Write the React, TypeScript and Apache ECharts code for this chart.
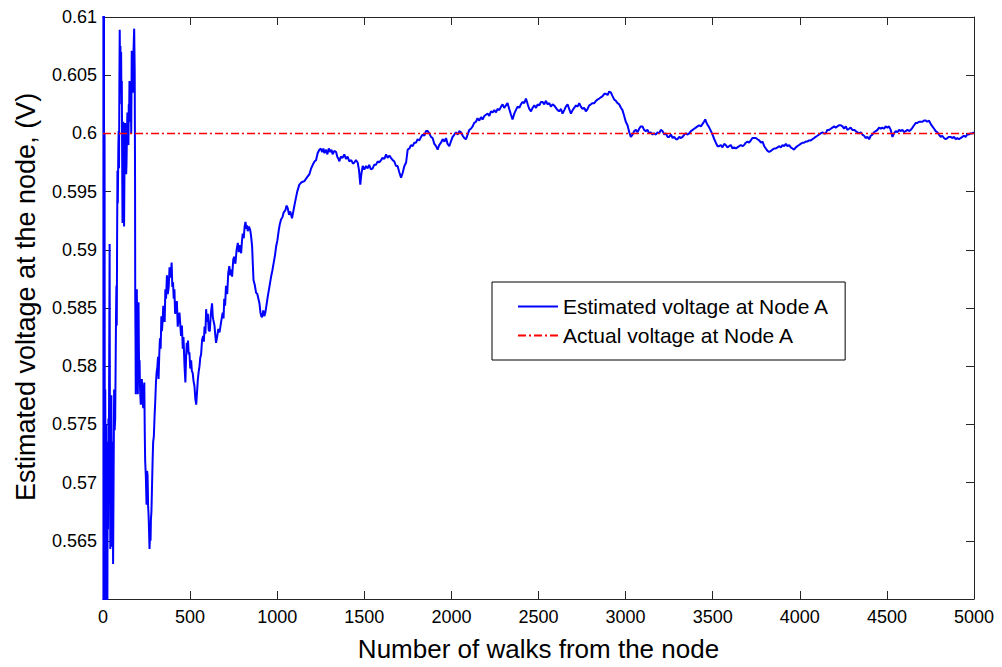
import React, { useEffect, useRef } from "react";
import * as echarts from "echarts";

const seriesNames = ["Estimated voltage at Node A", "Actual voltage at Node A"];
const xTitle = "Number of walks from the node";
const yTitle = "Estimated voltage at the node, (V)";
const walkRange = [0, 5000];
const walkStep = 500;
const voltRange = [0.56, 0.61];
const voltStep = 0.005;
const actualVoltage = 0.6;

// [walk count, estimated voltage]
const earlyPhase: [number, number][] = [
  [1, 0.9], [3, 0.45], [5, 0.66], [7, 0.53], [9, 0.6], [11, 0.55], [13, 0.578], [15, 0.5585], [17, 0.575], [19, 0.564],
  [21, 0.572], [23, 0.5635], [25, 0.558], [27, 0.5735], [29, 0.566], [31, 0.5755], [33, 0.569], [35, 0.578], [38, 0.5905],
  [40, 0.5725], [42, 0.5643], [44, 0.575], [46, 0.5675], [48, 0.5775], [50, 0.57], [52, 0.5645], [55, 0.5735], [58, 0.563],
  [61, 0.571], [64, 0.578], [67, 0.5745], [70, 0.5755], [73, 0.581], [75, 0.5845], [77, 0.5869], [79, 0.5835], [81, 0.591],
  [83, 0.5968], [85, 0.594], [88, 0.5987], [90, 0.6002], [92, 0.597], [94, 0.604], [96, 0.6089], [98, 0.6055], [100, 0.6075],
  [102, 0.6035], [104, 0.607], [106, 0.6025], [108, 0.6045], [110, 0.598], [112, 0.5923], [114, 0.5975], [116, 0.601],
  [118, 0.597], [121, 0.592], [124, 0.5985], [127, 0.6009], [129, 0.598], [131, 0.5995], [133, 0.5965], [135, 0.5974],
  [137, 0.5995], [140, 0.6018], [143, 0.5995], [146, 0.599], [148, 0.6025], [150, 0.6015], [152, 0.6045], [154, 0.6041],
  [156, 0.6025], [158, 0.601], [160, 0.6035], [162, 0.6], [165, 0.6071], [167, 0.6045], [169, 0.6055], [171, 0.6035],
  [173, 0.606], [176, 0.6075], [179, 0.609], [181, 0.6065], [182, 0.6054], [184, 0.596], [185, 0.5859], [187, 0.5815],
  [188, 0.5776], [190, 0.5845], [192, 0.5825], [194, 0.5866], [196, 0.5835], [198, 0.5805], [200, 0.5776], [202, 0.5825],
  [204, 0.5855], [206, 0.5815], [208, 0.579], [210, 0.5805], [212, 0.5785], [214, 0.5775], [217, 0.5767], [220, 0.5785],
  [223, 0.5789], [227, 0.577], [231, 0.5764], [234, 0.578], [237, 0.5786], [240, 0.574], [242, 0.5719], [246, 0.5705],
  [250, 0.5681], [253, 0.571], [256, 0.5706], [259, 0.568], [262, 0.5671], [265, 0.5655], [267, 0.5643], [270, 0.5655],
  [273, 0.565], [275, 0.5668], [278, 0.5675], [281, 0.5694], [285, 0.572], [288, 0.5735], [292, 0.574], [296, 0.5757],
  [300, 0.577], [304, 0.5786], [308, 0.5795], [312, 0.5799], [316, 0.5808], [319, 0.5789], [323, 0.581], [327, 0.5824],
  [331, 0.5815], [335, 0.5843], [338, 0.583], [342, 0.5838], [346, 0.5852], [350, 0.585], [354, 0.5838], [358, 0.5866],
  [362, 0.5858], [367, 0.5878], [372, 0.5862], [377, 0.5868], [382, 0.5885], [387, 0.5876], [391, 0.5882], [394, 0.5889],
  [398, 0.5868], [402, 0.5872], [406, 0.5858], [410, 0.5866], [414, 0.5845], [419, 0.585], [424, 0.5856], [429, 0.5834],
  [434, 0.5842], [439, 0.5846],
];

const middlePhase: [number, number][] = [
  [448, 0.5826], [453, 0.5835], [458, 0.5815], [462, 0.5825], [468, 0.58], [473, 0.5786], [477, 0.5808], [481, 0.582],
  [485, 0.5812], [488, 0.5822], [492, 0.581], [496, 0.5812], [501, 0.5798], [506, 0.5805], [510, 0.5796], [515, 0.5794],
  [520, 0.5787], [525, 0.5783], [530, 0.5772], [535, 0.5767], [540, 0.5778], [544, 0.5788], [549, 0.5795], [554, 0.58],
  [558, 0.5807], [563, 0.581], [569, 0.5823], [575, 0.5826], [579, 0.5821], [583, 0.5834], [588, 0.5828], [592, 0.5849],
  [597, 0.5838], [602, 0.5845], [607, 0.5831], [613, 0.583], [619, 0.5845], [626, 0.5854], [630, 0.5843], [633, 0.584],
  [640, 0.5835], [645, 0.5826], [649, 0.582], [655, 0.5825], [662, 0.5832], [669, 0.5829], [678, 0.5838], [687, 0.5846],
  [692, 0.5841], [696, 0.5858], [701, 0.5852], [706, 0.5869], [713, 0.5862], [719, 0.588], [725, 0.5886], [731, 0.5878],
  [736, 0.5883], [741, 0.5877], [748, 0.5892], [754, 0.5894], [760, 0.5888], [767, 0.59], [774, 0.5906], [780, 0.5898],
  [787, 0.5904], [793, 0.5897], [798, 0.5908], [802, 0.5914], [808, 0.591], [813, 0.592], [818, 0.5924], [823, 0.5918],
  [827, 0.5921], [831, 0.5916], [838, 0.592], [845, 0.5917], [850, 0.5912], [856, 0.5903], [860, 0.5888], [864, 0.5874],
  [871, 0.587], [879, 0.5863], [886, 0.5862], [892, 0.5858], [898, 0.5854], [904, 0.5846], [909, 0.5843], [913, 0.5842],
  [920, 0.5848], [926, 0.5843], [932, 0.5846], [939, 0.5853], [946, 0.586], [955, 0.5868], [965, 0.5877], [972, 0.5882],
  [980, 0.5889], [987, 0.5895], [994, 0.5903], [1001, 0.5908], [1009, 0.5917], [1015, 0.5922], [1022, 0.5926],
  [1030, 0.5928], [1037, 0.5932], [1047, 0.5934], [1054, 0.5938], [1060, 0.5936], [1068, 0.593], [1075, 0.5933],
  [1085, 0.5927], [1095, 0.5935], [1104, 0.5942], [1115, 0.595], [1127, 0.5956], [1140, 0.5958], [1156, 0.5959],
  [1170, 0.5962], [1185, 0.5965], [1195, 0.597], [1204, 0.5973], [1215, 0.5976], [1223, 0.5977], [1232, 0.5983],
  [1242, 0.5986], [1250, 0.5987], [1258, 0.5984], [1265, 0.5987], [1271, 0.5983], [1280, 0.5986], [1288, 0.5982],
  [1296, 0.5987], [1305, 0.5984], [1312, 0.5986], [1318, 0.5982], [1328, 0.5985], [1338, 0.5984], [1345, 0.598],
  [1352, 0.5978], [1357, 0.5976], [1365, 0.598], [1375, 0.5979], [1385, 0.5982], [1395, 0.5978], [1404, 0.598],
  [1414, 0.5976], [1425, 0.5977], [1435, 0.5974], [1443, 0.5975], [1452, 0.5977], [1462, 0.5975], [1470, 0.5968],
  [1477, 0.5956], [1483, 0.5965], [1491, 0.5972], [1500, 0.5969], [1510, 0.5972], [1519, 0.597], [1528, 0.5973],
  [1538, 0.5969], [1548, 0.597], [1557, 0.5973], [1567, 0.5973], [1577, 0.5976], [1586, 0.5975], [1596, 0.5977],
  [1605, 0.5979], [1615, 0.5978], [1625, 0.5982], [1634, 0.5979], [1644, 0.5981], [1653, 0.5979], [1663, 0.5977],
  [1672, 0.5976], [1682, 0.5972], [1691, 0.5972], [1700, 0.5967], [1711, 0.5962], [1720, 0.5966], [1730, 0.5972],
  [1740, 0.5975], [1749, 0.5986], [1759, 0.5987], [1768, 0.599], [1778, 0.5989], [1787, 0.5992], [1797, 0.5992],
  [1806, 0.5995], [1816, 0.5994], [1826, 0.5997], [1835, 0.5999], [1845, 0.5998], [1854, 0.6002], [1864, 0.6002],
  [1873, 0.6], [1883, 0.5997], [1892, 0.5996], [1902, 0.5991], [1912, 0.5989], [1921, 0.5986], [1930, 0.599],
  [1940, 0.5992], [1950, 0.5995], [1960, 0.5993], [1969, 0.5996], [1978, 0.5991], [1988, 0.5989], [1997, 0.5993],
];

const latePhase: [number, number][] = [
  [2007, 0.5997], [2017, 0.5999], [2026, 0.6001], [2036, 0.5999], [2045, 0.6002], [2055, 0.6001], [2065, 0.5998],
  [2074, 0.5996], [2084, 0.5995], [2093, 0.5999], [2103, 0.6003], [2112, 0.6004], [2122, 0.6006], [2131, 0.6009],
  [2141, 0.601], [2150, 0.6013], [2160, 0.6011], [2170, 0.6014], [2179, 0.6012], [2189, 0.6015], [2198, 0.6016],
  [2208, 0.6017], [2218, 0.6015], [2227, 0.6019], [2237, 0.6018], [2246, 0.602], [2256, 0.6018], [2265, 0.6021],
  [2275, 0.602], [2285, 0.6023], [2294, 0.6025], [2303, 0.6022], [2313, 0.6024], [2322, 0.6026], [2332, 0.6021],
  [2342, 0.6016], [2351, 0.6012], [2361, 0.6017], [2370, 0.602], [2380, 0.6023], [2390, 0.6022], [2399, 0.6025],
  [2409, 0.6027], [2418, 0.6026], [2428, 0.603], [2438, 0.6025], [2447, 0.6021], [2457, 0.6019], [2466, 0.6022],
  [2476, 0.6024], [2486, 0.6022], [2495, 0.6025], [2505, 0.6024], [2514, 0.6027], [2523, 0.6027], [2533, 0.6025],
  [2543, 0.6028], [2552, 0.6025], [2562, 0.6026], [2571, 0.6023], [2581, 0.6025], [2590, 0.6024], [2600, 0.6022],
  [2610, 0.602], [2619, 0.6019], [2629, 0.6021], [2638, 0.6017], [2648, 0.602], [2657, 0.6023], [2667, 0.6025],
  [2676, 0.6021], [2686, 0.6017], [2696, 0.602], [2705, 0.6022], [2715, 0.6024], [2724, 0.6023], [2734, 0.6026],
  [2743, 0.6023], [2753, 0.6021], [2762, 0.6022], [2772, 0.6019], [2782, 0.6021], [2791, 0.6024], [2801, 0.6025],
  [2810, 0.6026], [2820, 0.6026], [2830, 0.6028], [2839, 0.6029], [2849, 0.603], [2858, 0.6031], [2868, 0.6032],
  [2878, 0.6034], [2887, 0.6034], [2897, 0.6033], [2906, 0.6036], [2916, 0.6035], [2925, 0.6032], [2935, 0.6029],
  [2944, 0.6028], [2954, 0.6026], [2963, 0.6025], [2973, 0.6022], [2982, 0.602], [2992, 0.6015], [3001, 0.601],
  [3011, 0.6007], [3021, 0.6001], [3030, 0.5997], [3040, 0.5999], [3049, 0.6002], [3059, 0.6003], [3068, 0.6001],
  [3078, 0.6004], [3087, 0.6006], [3097, 0.6006], [3106, 0.6003], [3116, 0.6002], [3126, 0.6003], [3135, 0.6],
  [3145, 0.6001], [3155, 0.5999], [3164, 0.6], [3174, 0.5999], [3183, 0.6001], [3193, 0.6], [3202, 0.6003],
  [3212, 0.6002], [3222, 0.5999], [3231, 0.6], [3241, 0.5997], [3250, 0.5997], [3260, 0.5999], [3270, 0.5996],
  [3279, 0.5997], [3289, 0.5995], [3298, 0.5995], [3308, 0.5997], [3318, 0.5996], [3327, 0.5997], [3337, 0.5999],
  [3346, 0.6], [3356, 0.5999], [3365, 0.6], [3375, 0.6002], [3385, 0.6003], [3394, 0.6004], [3403, 0.6005],
  [3413, 0.6006], [3422, 0.6007], [3432, 0.6006], [3441, 0.6008], [3450, 0.601], [3457, 0.6012], [3465, 0.6009],
  [3472, 0.6007], [3480, 0.6005], [3490, 0.6002], [3499, 0.5999], [3509, 0.5995], [3518, 0.5992], [3528, 0.5989],
  [3537, 0.5989], [3547, 0.599], [3556, 0.5988], [3566, 0.5991], [3575, 0.599], [3585, 0.5988], [3594, 0.5989],
  [3604, 0.599], [3614, 0.5987], [3623, 0.5988], [3633, 0.5987], [3642, 0.5988], [3652, 0.5989], [3661, 0.599],
  [3671, 0.5989], [3680, 0.599], [3690, 0.5992], [3700, 0.5993], [3709, 0.5992], [3719, 0.5994], [3728, 0.5996],
  [3738, 0.5996], [3748, 0.5996], [3757, 0.5995], [3767, 0.5994], [3777, 0.5992], [3786, 0.5993], [3796, 0.5989],
  [3805, 0.5987], [3815, 0.5985], [3824, 0.5984], [3834, 0.5985], [3843, 0.5986], [3853, 0.5987], [3862, 0.5987],
  [3872, 0.5988], [3881, 0.5989], [3891, 0.5988], [3901, 0.599], [3910, 0.5989], [3920, 0.5991], [3929, 0.5989],
  [3939, 0.599], [3948, 0.5988], [3958, 0.5987], [3967, 0.5986], [3977, 0.5988], [3986, 0.5989], [3996, 0.599],
  [4005, 0.5991], [4015, 0.5992], [4024, 0.5992], [4034, 0.5993], [4044, 0.5993], [4053, 0.5994], [4063, 0.5994],
  [4072, 0.5995], [4082, 0.5996], [4091, 0.5997], [4101, 0.5998], [4110, 0.5999], [4120, 0.6], [4130, 0.6001],
  [4139, 0.6], [4149, 0.6], [4158, 0.6003], [4168, 0.6003], [4178, 0.6004], [4187, 0.6005], [4197, 0.6006],
  [4206, 0.6005], [4216, 0.6006], [4225, 0.6007], [4235, 0.6007], [4245, 0.6006], [4254, 0.6004], [4264, 0.6006],
  [4273, 0.6003], [4283, 0.6004], [4292, 0.6005], [4302, 0.6003], [4312, 0.6003], [4321, 0.6002], [4331, 0.6001],
  [4340, 0.6], [4350, 0.6001], [4359, 0.5999], [4369, 0.5998], [4378, 0.5996], [4388, 0.5997], [4398, 0.5995],
  [4407, 0.5998], [4417, 0.5999], [4426, 0.6001], [4436, 0.6002], [4446, 0.6003], [4455, 0.6005], [4465, 0.6004],
  [4474, 0.6005], [4484, 0.6004], [4493, 0.6006], [4503, 0.6005], [4512, 0.6006], [4522, 0.6003], [4532, 0.5997],
  [4541, 0.6], [4551, 0.6002], [4560, 0.6001], [4570, 0.6003], [4580, 0.6002], [4589, 0.6003], [4599, 0.6001],
  [4608, 0.6002], [4618, 0.6003], [4627, 0.6002], [4637, 0.6003], [4647, 0.6005], [4656, 0.6007], [4666, 0.6009],
  [4675, 0.6009], [4685, 0.601], [4694, 0.601], [4704, 0.601], [4713, 0.6011], [4723, 0.6011], [4732, 0.601],
  [4742, 0.6011], [4752, 0.6008], [4761, 0.6006], [4771, 0.6004], [4780, 0.6002], [4790, 0.6001], [4799, 0.5999],
  [4809, 0.5997], [4818, 0.5998], [4828, 0.5996], [4837, 0.5995], [4847, 0.5996], [4856, 0.5997], [4866, 0.5997],
  [4875, 0.5996], [4885, 0.5997], [4895, 0.5995], [4904, 0.5996], [4914, 0.5995], [4923, 0.5996], [4933, 0.5997],
  [4942, 0.5998], [4952, 0.5997], [4961, 0.5999], [4971, 0.5999], [4980, 0.6], [4990, 0.6], [5000, 0.6001],
];

const FONT = "'Liberation Sans', Arial, Helvetica, sans-serif";
const AXIS_COLOR = "#262626";

export default function App() {
  const ref = useRef<HTMLDivElement>(null);
  useEffect(() => {
    if (!ref.current) return;
    const chart = echarts.init(ref.current, null, { renderer: "svg" });
    const estimated = [...earlyPhase, ...middlePhase, ...latePhase];
    const actual = [
      [walkRange[0], actualVoltage],
      [walkRange[1], actualVoltage],
    ];
    const axisCommon = {
      axisLine: { show: true, onZero: false, lineStyle: { color: AXIS_COLOR, width: 1 } },
      axisTick: { show: true, inside: true, length: 8, lineStyle: { color: AXIS_COLOR, width: 1 } },
      splitLine: { show: false },
    };
    const xFmt = (v: number) => String(v);
    const yFmt = (v: number) => (Math.abs(v - voltRange[0]) < 1e-9 ? "" : String(Number(v.toFixed(3))));
    chart.setOption({
      animation: false,
      backgroundColor: "#ffffff",
      textStyle: { fontFamily: FONT },
      grid: { left: 103, right: 28, top: 17, bottom: 67, containLabel: false },
      legend: {
        data: seriesNames,
        orient: "vertical",
        left: 492,
        top: 282,
        backgroundColor: "#ffffff",
        borderColor: "#000000",
        borderWidth: 1,
        borderRadius: 0,
        padding: [14, 16, 14, 25],
        itemGap: 8,
        itemWidth: 40,
        itemHeight: 14,
        selectedMode: false,
        itemStyle: { opacity: 0, color: "transparent", borderWidth: 0 },
        textStyle: { fontSize: 21, color: "#000000", fontFamily: FONT },
      },
      xAxis: [
        {
          type: "value",
          position: "bottom",
          min: walkRange[0],
          max: walkRange[1],
          interval: walkStep,
          ...axisCommon,
          axisLabel: { show: true, fontSize: 18, color: "#000000", margin: 9, fontFamily: FONT, formatter: xFmt },
          name: xTitle,
          nameLocation: "middle",
          nameGap: 37,
          nameTextStyle: { fontSize: 26, color: "#000000", fontFamily: FONT },
        },
        {
          type: "value",
          position: "top",
          min: walkRange[0],
          max: walkRange[1],
          interval: walkStep,
          ...axisCommon,
          axisLabel: { show: false },
        },
      ],
      yAxis: [
        {
          type: "value",
          position: "left",
          min: voltRange[0],
          max: voltRange[1],
          interval: voltStep,
          ...axisCommon,
          axisLabel: { show: true, fontSize: 18, color: "#000000", margin: 6, fontFamily: FONT, formatter: yFmt },
          name: yTitle,
          nameLocation: "middle",
          nameGap: 64,
          nameTextStyle: { fontSize: 27, color: "#000000", fontFamily: FONT, padding: [0, 0, 0, 22] },
        },
        {
          type: "value",
          position: "right",
          min: voltRange[0],
          max: voltRange[1],
          interval: voltStep,
          ...axisCommon,
          axisLabel: { show: false },
        },
      ],
      series: [
        {
          name: seriesNames[0],
          type: "line",
          data: estimated,
          symbol: "none",
          showSymbol: false,
          clip: true,
          xAxisIndex: 0,
          yAxisIndex: 0,
          lineStyle: { color: "#0000ff", width: 2 },
          itemStyle: { color: "#0000ff" },
        },
        {
          name: seriesNames[1],
          type: "line",
          data: actual,
          symbol: "none",
          showSymbol: false,
          clip: true,
          xAxisIndex: 0,
          yAxisIndex: 0,
          lineStyle: { color: "#ff0000", width: 1.5, type: [8, 3, 2, 3] },
          itemStyle: { color: "#ff0000" },
        },
      ],
    });
    return () => chart.dispose();
  }, []);
  return (
    <div
      ref={ref}
      style={{ position: "absolute", left: 0, top: 0, width: 1002, height: 667, background: "#ffffff" }}
    />
  );
}
